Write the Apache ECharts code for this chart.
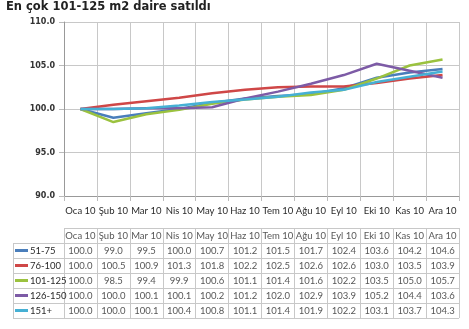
<!DOCTYPE html>
<html><head><meta charset="utf-8">
<script src="https://cdn.jsdelivr.net/npm/echarts@6/dist/echarts.min.js"></script>
<style>html,body{margin:0;padding:0;background:#fff}#c{width:469px;height:329px}</style>
</head><body><div id="c"></div>
<script>
const titleText = 'En çok 101-125 m2 daire satıldı';
const months = ['Oca 10','Şub 10','Mar 10','Nis 10','May 10','Haz 10','Tem 10','Ağu 10','Eyl 10','Eki 10','Kas 10','Ara 10'];
const seriesNames = ['51-75','76-100','101-125','126-150','151+'];
const s51_75   = [100.0, 99.0, 99.5, 100.0, 100.7, 101.2, 101.5, 101.7, 102.4, 103.6, 104.2, 104.6];
const s76_100  = [100.0, 100.5, 100.9, 101.3, 101.8, 102.2, 102.5, 102.6, 102.6, 103.0, 103.5, 103.9];
const s101_125 = [100.0, 98.5, 99.4, 99.9, 100.6, 101.1, 101.4, 101.6, 102.2, 103.5, 105.0, 105.7];
const s126_150 = [100.0, 100.0, 100.1, 100.1, 100.2, 101.2, 102.0, 102.9, 103.9, 105.2, 104.4, 103.6];
const s151p    = [100.0, 100.0, 100.1, 100.4, 100.8, 101.1, 101.4, 101.9, 102.2, 103.1, 103.7, 104.3];
const yTicks = { min: 90, max: 110, interval: 5 };

const seriesValues = [s51_75, s76_100, s101_125, s126_150, s151p];
const colors = ['#4a7ebb', '#cf4747', '#9bc23f', '#7d5ba6', '#46b0d4'];
const gridColor = '#c8c8c8';
const tableFont = 'Lato';

const lineSeries = seriesNames.map((n, i) => ({
  name: n, type: 'line', xAxisIndex: 0, yAxisIndex: 0,
  data: seriesValues[i], symbol: 'none', smooth: false,
  lineStyle: { width: 2.5, color: colors[i] }, itemStyle: { color: colors[i] },
  z: 3 + i
}));

const tableData = [];
months.forEach((m, j) => tableData.push([j, 0, m]));
seriesValues.forEach((vals, i) => vals.forEach((v, j) => tableData.push([j, i + 1, v.toFixed(1)])));

const rowCats = ['hdr'].concat(seriesNames);
const rich = { t: { fontFamily: tableFont, fontSize: 9.5, color: '#2a2a2a', padding: [0, 0, 0, 2] } };
colors.forEach((c, i) => { rich['l' + i] = { width: 13, height: 3, backgroundColor: c }; });

const chart = echarts.init(document.getElementById('c'), null, { renderer: 'canvas' });
chart.setOption({
  backgroundColor: '#fff',
  animation: false,
  title: { text: titleText, left: 6, top: 1, padding: 0,
    textStyle: { fontFamily: 'DejaVu Sans', fontWeight: 'bold', fontSize: 11.5, color: '#222' } },
  grid: [
    { left: 64, top: 22, width: 395, height: 174 },
    { left: 64, top: 228, width: 395, height: 90 },
    { left: 13, top: 243, width: 51, height: 75 }
  ],
  xAxis: [
    { type: 'category', gridIndex: 0, data: months, boundaryGap: true,
      axisLine: { show: true, lineStyle: { color: '#999' } },
      axisTick: { show: true, interval: 0, length: 5, lineStyle: { color: '#bbb' } },
      axisLabel: { interval: 0, margin: 10, fontFamily: tableFont, fontSize: 9.5, color: '#2a2a2a' },
      splitLine: { show: true, interval: 0, lineStyle: { color: gridColor } } },
    { type: 'category', gridIndex: 1, data: months, boundaryGap: true,
      axisLine: { show: false }, axisTick: { show: false }, axisLabel: { show: false },
      splitLine: { show: true, interval: 0, lineStyle: { color: gridColor } } },
    { type: 'category', gridIndex: 2, data: [''], boundaryGap: true,
      axisLine: { show: false }, axisTick: { show: false }, axisLabel: { show: false },
      splitLine: { show: true, interval: 0, lineStyle: { color: gridColor } } }
  ],
  yAxis: [
    { type: 'value', gridIndex: 0, min: yTicks.min, max: yTicks.max, interval: yTicks.interval,
      axisLine: { show: true, lineStyle: { color: '#999' } },
      axisTick: { show: true, length: 5, lineStyle: { color: '#bbb' } },
      axisLabel: { margin: 9, formatter: v => v.toFixed(1), fontFamily: 'DejaVu Sans', fontSize: 8, fontWeight: 'bold', color: '#333' },
      splitLine: { show: true, lineStyle: { color: gridColor } } },
    { type: 'category', gridIndex: 1, data: rowCats, inverse: true, boundaryGap: true,
      axisLine: { show: false }, axisTick: { show: false }, axisLabel: { show: false },
      splitLine: { show: true, interval: 0, lineStyle: { color: gridColor } } },
    { type: 'category', gridIndex: 2, data: seriesNames, inverse: true, boundaryGap: true,
      axisLine: { show: false }, axisTick: { show: false },
      axisLabel: { show: true, inside: true, margin: 2, interval: 0,
        formatter: (v, idx) => '{l' + idx + '|}{t|' + v + '}', rich: rich },
      splitLine: { show: true, interval: 0, lineStyle: { color: gridColor } } }
  ],
  series: lineSeries.concat([{
    type: 'scatter', xAxisIndex: 1, yAxisIndex: 1, data: tableData,
    symbolSize: 0, silent: true,
    label: { show: true, position: 'inside', formatter: p => p.value[2],
      fontFamily: tableFont, fontSize: 9.5, color: '#2a2a2a' }
  }])
});
</script></body></html>
